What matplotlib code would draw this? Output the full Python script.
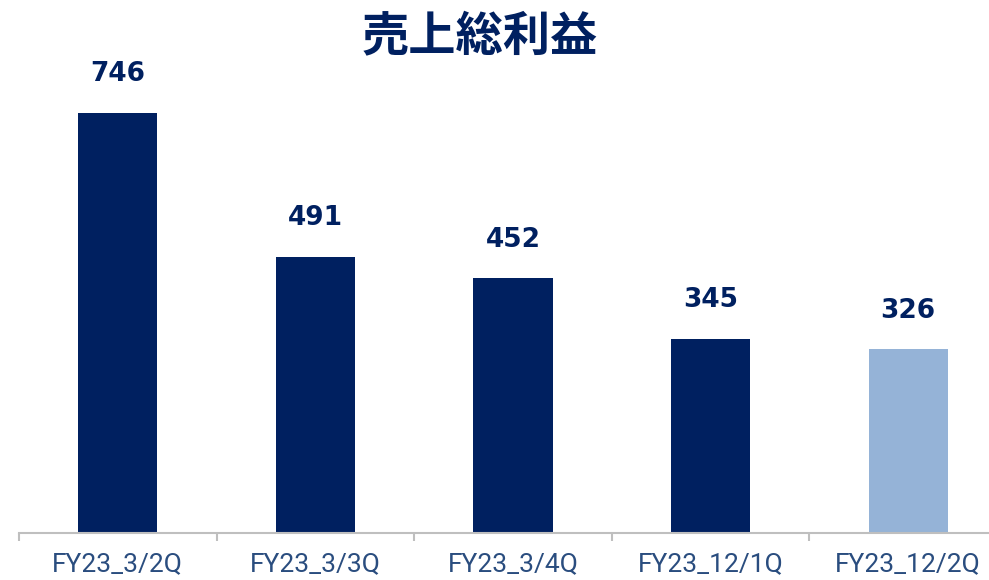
import numpy as np
import matplotlib.pyplot as plt

categories = ['FY23_3/2Q', 'FY23_3/3Q', 'FY23_3/4Q', 'FY23_12/1Q', 'FY23_12/2Q']
values = [746, 491, 452, 345, 326]
colors = ['#002060', '#002060', '#002060', '#002060', '#95B3D7']

fig = plt.figure(figsize=(9.89, 5.8), dpi=100)
ax = fig.add_axes([19 / 989, 1 - 533 / 580, 988 / 989, 473 / 580])

x = np.arange(len(categories))
ax.bar(x, values, width=0.4, color=colors, zorder=2)
for xi, v in zip(x, values):
    ax.annotate(str(v), (xi, v), xytext=(0, 28), textcoords='offset points',
                ha='center', va='center', fontsize=19, fontweight='bold',
                color='#002060', family='DejaVu Sans')

ax.set_xlim(-0.5, len(categories) - 0.5)
ax.set_ylim(0, 840)
ax.set_yticks([])
for s in ['left', 'right', 'top']:
    ax.spines[s].set_visible(False)
ax.spines['bottom'].set_color('#BFBFBF')
ax.spines['bottom'].set_linewidth(1.5)

ax.set_xticks(x)
ax.set_xticklabels(categories, family='Roboto', fontsize=19, color='#2A4D7F')
ax.tick_params(axis='x', length=0, pad=14)
ax.set_xticks(np.arange(len(categories)) - 0.5, minor=True)
ax.tick_params(axis='x', which='minor', length=6, width=1.5, color='#BFBFBF')

fig.text(0.485, 1 - 37 / 580, '売上総利益', ha='center', va='center',
         fontsize=34, fontweight='bold', color='#002060',
         family=['Noto Sans CJK JP', 'DejaVu Sans'])

fig.savefig('out.png', dpi=100)
